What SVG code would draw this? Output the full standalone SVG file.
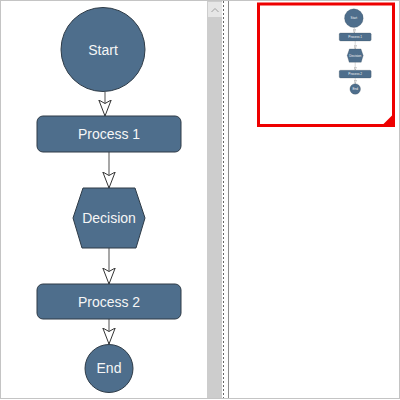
<svg xmlns="http://www.w3.org/2000/svg" xmlns:xlink="http://www.w3.org/1999/xlink" width="400" height="400" viewBox="0 0 400 400">
  <style>
    .node { fill: #4e6e8c; stroke: #2e3b47; stroke-width: 1; }
    .label { font-family: "Liberation Sans", Arial, sans-serif; font-size: 14px; fill: #f6f6f6; text-anchor: middle; }
    .conn { stroke: #8a8a8a; stroke-width: 1.5; fill: none; marker-end: url(#arrow); }
  </style>
  <defs>
    <marker id="arrow" markerUnits="userSpaceOnUse" viewBox="0 0 17 14" refX="16.5" refY="7" markerWidth="17" markerHeight="14" orient="auto">
      <path d="M0.5,0.8 L16.5,7 L0.5,13.2 L4,7 Z" fill="#ffffff" stroke="#333333" stroke-width="1" stroke-linejoin="miter"/>
    </marker>
  </defs>

  <!-- frame -->
  <rect x="0" y="0" width="400" height="400" fill="#ffffff"/>
  <rect x="0.5" y="0.5" width="399" height="398" fill="none" stroke="#c4c4c4" stroke-width="1"/>

  <!-- scrollbar -->
  <rect x="207" y="1" width="15" height="397" fill="#cdcdcd"/>
  <rect x="208" y="2" width="14" height="15" fill="#e6e6e6"/>
  <path d="M211.5,12 L215,8.5 L218.5,12" fill="none" stroke="#a0a0a0" stroke-width="1"/>
  <line x1="223.5" y1="1" x2="223.5" y2="398" stroke="#666666" stroke-width="1" stroke-dasharray="2,2"/>
  <line x1="228.5" y1="1" x2="228.5" y2="398" stroke="#8c8c8c" stroke-width="1"/>

  <g id="diagram">
    <g id="connectors">
      <line class="conn" x1="105" y1="92" x2="105" y2="116"/>
      <line class="conn" x1="109" y1="152" x2="109" y2="188"/>
      <line class="conn" x1="109" y1="248" x2="109" y2="284"/>
      <line class="conn" x1="109" y1="319" x2="109" y2="344"/>
    </g>
    <g id="start">
      <circle class="node" cx="103" cy="49.5" r="42"/>
      <text class="label" x="103" y="55">Start</text>
    </g>
    <g id="process1">
      <rect class="node" x="37" y="116" width="144" height="36" rx="6"/>
      <text class="label" x="109" y="139">Process 1</text>
    </g>
    <g id="decision">
      <polygon class="node" points="83,188 135,188 145,218 136,248 82,248 73,218"/>
      <text class="label" x="109" y="223">Decision</text>
    </g>
    <g id="process2">
      <rect class="node" x="37" y="284" width="144" height="35" rx="6"/>
      <text class="label" x="109" y="307">Process 2</text>
    </g>
    <g id="end">
      <circle class="node" cx="109" cy="368.5" r="24"/>
      <text class="label" x="109" y="373">End</text>
    </g>
  </g>

  <!-- overview -->
  <g id="overview">
    <use xlink:href="#diagram" href="#diagram" transform="translate(331,7.2) scale(0.222)"/>
    <rect x="258.5" y="4" width="135" height="121.5" fill="none" stroke="#ee0000" stroke-width="3"/>
    <polygon points="382,125.5 393.5,114 393.5,125.5" fill="#ee0000"/>
  </g>
</svg>
